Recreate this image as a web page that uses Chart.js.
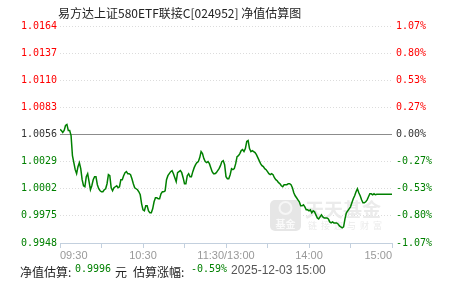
<!DOCTYPE html>
<html>
<head>
<meta charset="utf-8">
<script src="https://cdn.jsdelivr.net/npm/chart.js@4.4.1/dist/chart.umd.min.js"></script>
<style>
  html, body { margin: 0; padding: 0; background: #fff; }
  #wrap { position: relative; width: 451px; height: 281px; overflow: hidden; }
  #chart { position: absolute; left: 0; top: 0; }
  .txt { position: absolute; white-space: nowrap; line-height: 14px; }
  .cjk { font: 12px "Noto Sans CJK SC", sans-serif; color: #222; }
  .num { font: 10px "DejaVu Sans Mono", monospace; color: #008000; }
  .date { font: 12px "Liberation Sans", Arial, sans-serif; color: #555; }
</style>
</head>
<body>
<div id="wrap">
  <canvas id="chart" width="451" height="281"></canvas>
  <div class="txt cjk" style="left:58px;top:4px;">易方达上证580ETF联接C[024952] 净值估算图</div>
  <div class="txt cjk" style="left:20px;top:263px;">净值估算:</div>
  <div class="txt num" style="left:75px;top:263px;">0.9996</div>
  <div class="txt cjk" style="left:115px;top:263px;">元</div>
  <div class="txt cjk" style="left:133px;top:263px;">估算涨幅:</div>
  <div class="txt num" style="left:191px;top:263px;">-0.59%</div>
  <div class="txt date" style="left:231px;top:263px;">2025-12-03 15:00</div>
</div>
<script>
// previous close (reference line)
const prevClose = 1.0056;

// estimated NAV, one value per trading minute, 09:30 .. 15:00
const nav = [
  1.0061, 1.0060, 1.0058, 1.0060, 1.0065, 1.0066, 1.0060, 1.0060, 1.0055, 1.0035,
  1.0028, 1.0021, 1.0017, 1.0024, 1.0028, 1.0022, 1.0011, 1.0005, 1.0004, 1.0014,
  1.0017, 1.0009, 1.0001, 1.0005, 1.0011, 1.0014, 1.0014, 1.0006, 1.0002, 1.0000,
  0.9999, 0.9999, 1.0001, 1.0002, 1.0007, 1.0016, 1.0015, 1.0003, 1.0000, 1.0003,
  1.0004, 1.0005, 1.0003, 1.0004, 1.0011, 1.0011, 1.0015, 1.0018, 1.0019, 1.0017,
  1.0017, 1.0016, 1.0012, 1.0007, 1.0003, 1.0002, 1.0001, 0.9999, 0.9996, 0.9987,
  0.9981, 0.9980, 0.9985, 0.9985, 0.9980, 0.9978, 0.9978, 0.9982, 0.9989, 0.9993,
  0.9993, 0.9992, 0.9992, 0.9997, 0.9999, 0.9999, 1.0000, 1.0011, 1.0015, 1.0017,
  1.0019, 1.0020, 1.0017, 1.0013, 1.0009, 1.0018, 1.0019, 1.0020, 1.0018, 1.0013,
  1.0007, 1.0007, 1.0015, 1.0017, 1.0014, 1.0014, 1.0019, 1.0023, 1.0026, 1.0028,
  1.0029, 1.0033, 1.0039, 1.0037, 1.0032, 1.0029, 1.0028, 1.0029, 1.0027, 1.0023,
  1.0019, 1.0017, 1.0017, 1.0018, 1.0020, 1.0022, 1.0025, 1.0029, 1.0030, 1.0026,
  1.0014, 1.0012, 1.0012, 1.0016, 1.0022, 1.0021, 1.0022, 1.0027, 1.0034, 1.0035,
  1.0037, 1.0040, 1.0041, 1.0039, 1.0042, 1.0049, 1.0050, 1.0042, 1.0039, 1.0040,
  1.0039, 1.0038, 1.0036, 1.0033, 1.0030, 1.0027, 1.0025, 1.0024, 1.0022, 1.0021,
  1.0019, 1.0017, 1.0016, 1.0017, 1.0016, 1.0013, 1.0011, 1.0010, 1.0008, 1.0007,
  1.0005, 1.0004, 1.0006, 1.0006, 1.0006, 1.0007, 1.0007, 1.0006, 1.0003, 0.9998,
  0.9995, 0.9993, 0.9991, 0.9989, 0.9985, 0.9985, 0.9986, 0.9984, 0.9981, 0.9981,
  0.9980, 0.9981, 0.9978, 0.9980, 0.9979, 0.9976, 0.9973, 0.9972, 0.9974, 0.9976,
  0.9974, 0.9973, 0.9973, 0.9973, 0.9972, 0.9969, 0.9968, 0.9969, 0.9968, 0.9968,
  0.9968, 0.9967, 0.9965, 0.9964, 0.9963, 0.9964, 0.9972, 0.9978, 0.9980, 0.9982,
  0.9984, 0.9988, 0.9992, 0.9995, 0.9999, 1.0002, 0.9998, 0.9995, 0.9991, 0.9988,
  0.9988, 0.9989, 0.9991, 0.9994, 0.9997, 0.9997, 0.9996, 0.9997, 0.9996, 0.99965,
  0.99965, 0.99965, 0.99965, 0.99965, 0.99965, 0.99965, 0.99965, 0.99965, 0.99965, 0.99965,
  0.99965
];

// axis ticks
const yTicks = [0.9948, 0.9975, 1.0002, 1.0029, 1.0056, 1.0083, 1.0110, 1.0137, 1.0164];
const leftLabels = ["0.9948", "0.9975", "1.0002", "1.0029", "1.0056", "1.0083", "1.0110", "1.0137", "1.0164"];
const rightLabels = ["-1.07%", "-0.80%", "-0.53%", "-0.27%", "0.00%", "0.27%", "0.53%", "0.80%", "1.07%"];
const xTickValues = [0, 30, 60, 90, 120, 150, 180, 210, 240];
const xTickLabels = ["09:30", "", "10:30", "", "11:30/13:00", "", "14:00", "", "15:00"];

const RED = "#ff0000";
const GREEN = "#008000";
const DARK = "#333333";

function tickColor(ctx) {
  if (ctx.index < 4) return GREEN;
  if (ctx.index > 4) return RED;
  return DARK;
}

// faint site watermark behind the line
const watermark = {
  id: "watermark",
  beforeDatasetsDraw(chart) {
    const c = chart.ctx;
    c.save();
    c.fillStyle = "#e6e6e6";
    c.beginPath();
    c.roundRect(270, 200, 31, 31, 5);
    c.fill();
    c.strokeStyle = "#f6f6f6";
    c.lineWidth = 2;
    c.beginPath();
    c.arc(285.5, 208, 6, 0, Math.PI * 2);
    c.stroke();
    c.fillStyle = "#fafafa";
    c.font = "bold 10px 'Noto Sans CJK SC'";
    c.textAlign = "center";
    c.textBaseline = "middle";
    c.fillText("基金", 285.5, 224);
    c.fillStyle = "#ebebeb";
    c.font = "bold 19px 'Noto Sans CJK SC'";
    c.textAlign = "left";
    c.textBaseline = "alphabetic";
    c.fillText("天天基金", 305, 217);
    c.font = "9px 'Noto Sans CJK SC'";
    const motto = "链接您与财富";
    for (let i = 0; i < motto.length; i++) {
      c.fillText(motto[i], 308 + i * 13, 229);
    }
    c.restore();
  },
};

const ctx = document.getElementById("chart").getContext("2d");
const chart = new Chart(ctx, {
  type: "line",
  data: {
    datasets: [
      {
        label: "估算净值",
        data: nav.map((v, i) => ({ x: i, y: v })),
        borderColor: GREEN,
        borderWidth: 1.5,
        pointRadius: 0,
        tension: 0,
        yAxisID: "y",
      },
      {
        label: "昨日净值",
        data: [
          { x: 0, y: prevClose },
          { x: 240, y: prevClose },
        ],
        borderColor: "#8c8c8c",
        borderWidth: 1,
        pointRadius: 0,
        yAxisID: "y",
      },
    ],
  },
  options: {
    responsive: false,
    animation: false,
    devicePixelRatio: 1,
    layout: { padding: { top: 26, left: 0, right: 0, bottom: 0 } },
    plugins: {
      legend: { display: false },
      tooltip: { enabled: false },
      title: { display: false },
    },
    scales: {
      x: {
        type: "linear",
        min: 0,
        max: 240,
        afterBuildTicks: (scale) => {
          scale.ticks = xTickValues.map((v) => ({ value: v }));
        },
        afterFit: (scale) => {
          scale.height = 38;
        },
        ticks: {
          autoSkip: false,
          maxRotation: 0,
          align: "inner",
          padding: 1,
          color: "#999",
          font: { family: "Liberation Sans", size: 11 },
          callback: (v, i) => xTickLabels[i],
        },
        grid: {
          drawOnChartArea: false,
          drawTicks: true,
          tickLength: 5,
          tickColor: "#c3d0de",
          color: "#c3d0de",
        },
        border: { display: true, color: "#c3d0de", width: 1 },
      },
      y: {
        position: "left",
        min: 0.9948,
        max: 1.0164,
        afterBuildTicks: (scale) => {
          scale.ticks = yTicks.map((v) => ({ value: v }));
        },
        afterFit: (scale) => {
          scale.width = 60;
        },
        ticks: {
          padding: 3,
          color: tickColor,
          font: { family: "DejaVu Sans Mono", size: 10 },
          callback: (v, i) => leftLabels[i],
        },
        grid: { drawTicks: false, color: "#dcdcdc", lineWidth: 1 },
        border: { display: false, dash: [1, 2] },
      },
      y2: {
        position: "right",
        min: 0.9948,
        max: 1.0164,
        afterBuildTicks: (scale) => {
          scale.ticks = yTicks.map((v) => ({ value: v }));
        },
        afterFit: (scale) => {
          scale.width = 59;
        },
        ticks: {
          padding: 4,
          color: tickColor,
          font: { family: "DejaVu Sans Mono", size: 10 },
          callback: (v, i) => rightLabels[i],
        },
        grid: { drawOnChartArea: false, drawTicks: false },
        border: { display: false },
      },
    },
  },
  plugins: [watermark],
});
</script>
</body>
</html>
